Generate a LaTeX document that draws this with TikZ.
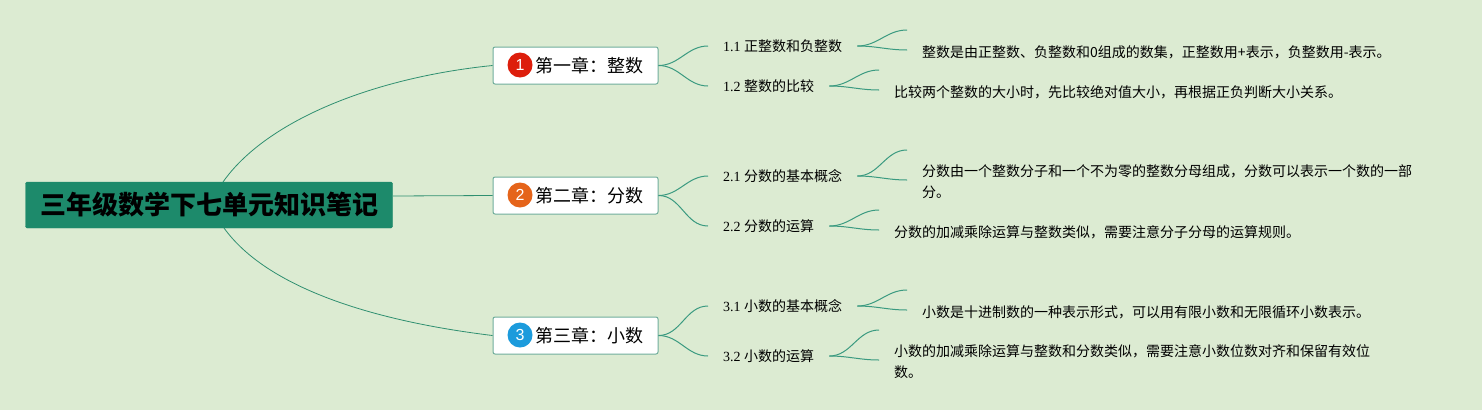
\documentclass[tikz,border=0pt]{standalone}
\usepackage{fontspec}
\setmainfont{Liberation Serif}
\newfontfamily\cjk{Noto Sans CJK SC}
\newfontfamily\badgefont{Liberation Sans}
\definecolor{paper}{HTML}{DCEBD2}
\definecolor{rootgreen}{HTML}{1D8A6B}
\definecolor{boxedge}{HTML}{6FAD9C}
\definecolor{linegreen}{HTML}{2F8F70}
\definecolor{forkgreen}{HTML}{3A9A80}
\definecolor{badgered}{HTML}{DD1E0C}
\definecolor{badgeorange}{HTML}{E5641A}
\definecolor{badgeblue}{HTML}{1C9BDC}
\tikzset{
 rootbox/.style={fill=rootgreen,draw=rootgreen,rounded corners=1.5pt,minimum width=367pt,minimum height=46pt,inner sep=0pt,font=\cjk\fontsize{26}{30}\selectfont\bfseries},
 chapterbox/.style={fill=white,draw=boxedge,line width=1pt,rounded corners=2pt,minimum width=165pt,minimum height=37pt,inner sep=0pt,font=\cjk\fontsize{18}{22}\selectfont},
 badge/.style={circle,minimum size=25pt,inner sep=0pt,text=white,font=\badgefont\fontsize{16}{16}\selectfont},
 subbox/.style={inner xsep=15pt,inner ysep=2pt,font=\fontsize{14}{18}\selectfont},
 detailbox/.style={inner xsep=15pt,inner ysep=2pt,align=left,font=\cjk\fontsize{14}{21}\selectfont,execute at begin node={\rule[-4pt]{0pt}{23pt}}},
 main/.style={draw=linegreen,line width=.8pt},
 fork/.style={draw=forkgreen,line width=1pt},
}
\begin{document}
\begin{tikzpicture}[x=1pt,y=-1pt]
    \fill[paper] (0,0) rectangle (1482,410);
    \useasboundingbox (0,0) rectangle (1482,410);
    \node[rootbox] (root) at (209,205) {\raisebox{-1.5pt}{三年级数学下七单元知识笔记}};
    \coordinate (roottop) at (223,182);
    \coordinate (rootmid) at (393,196);
    \coordinate (rootbot) at (224,228);
    % chapters
    \node[chapterbox] (ch1) at (575.5,65.5) {\hspace*{27pt}第一章：整数};
    \node[chapterbox] (ch2) at (575.5,195.5) {\hspace*{27pt}第二章：分数};
    \node[chapterbox] (ch3) at (575.5,335.5) {\hspace*{27pt}第三章：小数};
    \node[badge,fill=badgered] (b1) at (520,65) {1};
    \node[badge,fill=badgeorange] (b2) at (520,195) {2};
    \node[badge,fill=badgeblue] (b3) at (520,335) {3};
    % sections
    \node[subbox,anchor=west] (s11) at (708,46) {1.1 {\cjk 正整数和负整数}};
    \node[subbox,anchor=west] (s12) at (708,86) {1.2 {\cjk 整数的比较}};
    \node[subbox,anchor=west] (s21) at (708,176) {2.1 {\cjk 分数的基本概念}};
    \node[subbox,anchor=west] (s22) at (708,226) {2.2 {\cjk 分数的运算}};
    \node[subbox,anchor=west] (s31) at (708,306) {3.1 {\cjk 小数的基本概念}};
    \node[subbox,anchor=west] (s32) at (708,356) {3.2 {\cjk 小数的运算}};
    % details
    \node[detailbox,anchor=west] (d11) at (907,50) {整数是由正整数、负整数和0组成的数集，正整数用+表示，负整数用-表示。};
    \node[detailbox,anchor=west] (d12) at (879,90) {比较两个整数的大小时，先比较绝对值大小，再根据正负判断大小关系。};
    \node[detailbox,anchor=west] (d21) at (907,183) {分数由一个整数分子和一个不为零的整数分母组成，分数可以表示一个数的一部\\分。};
    \node[detailbox,anchor=west] (d22) at (879,230) {分数的加减乘除运算与整数类似，需要注意分子分母的运算规则。};
    \node[detailbox,anchor=west] (d31) at (907,310) {小数是十进制数的一种表示形式，可以用有限小数和无限循环小数表示。};
    \node[detailbox,anchor=west] (d32) at (879,363) {小数的加减乘除运算与整数和分数类似，需要注意小数位数对齐和保留有效位\\数。};
    \coordinate (e11) at (907,30);
    \coordinate (e12) at (879,70);
    \coordinate (e21) at (907,150);
    \coordinate (e22) at (879,210);
    \coordinate (e31) at (907,290);
    \coordinate (e32) at (879,330);
    % root lines
    \draw[main] (roottop) .. controls (265,122) and (370,78) .. (ch1.west);
    \draw[main] (rootmid) -- (ch2.west);
    \draw[main] (rootbot) .. controls (265,285) and (365,320) .. (ch3.west);
    % forks
    \draw[fork] (ch1.east) to[out=0,in=180] (s11.west);
    \draw[fork] (ch1.east) to[out=0,in=180] (s12.west);
    \draw[fork] (ch2.east) to[out=0,in=180] (s21.west);
    \draw[fork] (ch2.east) to[out=0,in=180] (s22.west);
    \draw[fork] (ch3.east) to[out=0,in=180] (s31.west);
    \draw[fork] (ch3.east) to[out=0,in=180] (s32.west);
    \draw[fork] (s11.east) to[out=0,in=180] (e11);
    \draw[fork] (s11.east) to[out=0,in=180] (d11.west);
    \draw[fork] (s12.east) to[out=0,in=180] (e12);
    \draw[fork] (s12.east) to[out=0,in=180] (d12.west);
    \draw[fork] (s21.east) to[out=0,in=180] (e21);
    \draw[fork] (s21.east) to[out=0,in=180] ([yshift=3pt]d21.west);
    \draw[fork] (s22.east) to[out=0,in=180] (e22);
    \draw[fork] (s22.east) to[out=0,in=180] (d22.west);
    \draw[fork] (s31.east) to[out=0,in=180] (e31);
    \draw[fork] (s31.east) to[out=0,in=180] (d31.west);
    \draw[fork] (s32.east) to[out=0,in=180] (e32);
    \draw[fork] (s32.east) to[out=0,in=180] ([yshift=3pt]d32.west);
\end{tikzpicture}
\end{document}
